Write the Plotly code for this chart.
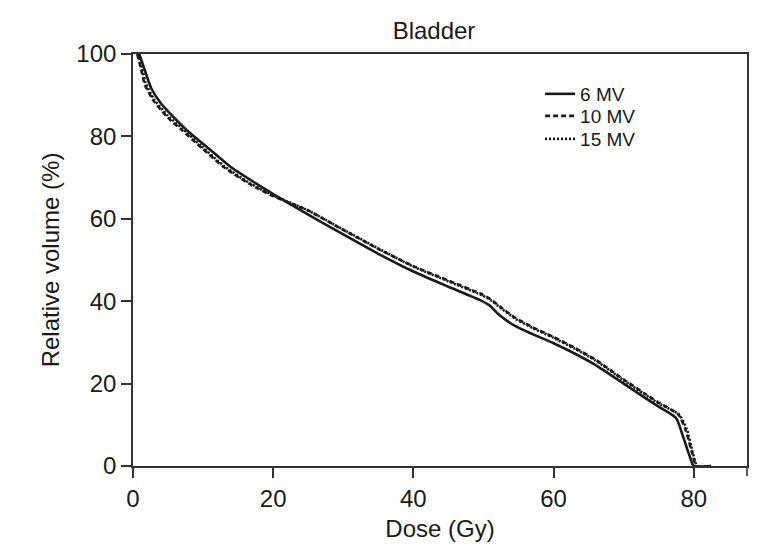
import plotly.graph_objects as go

# Dose-volume histogram data (Dose in Gy, relative volume in %)
dose_6mv = [0.9, 1.5, 2.6, 4.0, 5.9, 8.0, 10.7, 14.0, 17.8, 20.0, 25.0, 30.0, 35.0, 40.0, 45.0,
            49.6, 51.0, 52.1, 54.5, 57.0, 60.0, 63.0, 66.0, 70.0, 73.0, 75.0, 77.5, 78.5, 79.5, 80.0, 82.5]
vol_6mv = [100, 97, 91.7, 88, 84.5, 81, 77.2, 72.5, 68.3, 66, 61, 56.2, 51.5, 47.2, 43.5,
           40.2, 38.8, 36.9, 34, 32, 29.8, 27.3, 24.5, 20, 16.6, 14.4, 11.6, 7, 2, 0, 0]

dose_10mv = [0.6, 1.2, 1.7, 3.0, 5.0, 7.0, 9.8, 13.0, 16.8, 20.0, 25.0, 30.0, 35.0, 40.0, 45.0,
             49.6, 51.0, 52.5, 54.5, 57.0, 60.0, 63.0, 66.0, 70.0, 73.0, 75.0, 77.8, 78.8, 79.8, 80.4, 82.5]
vol_10mv = [100, 96, 92.5, 88.5, 84.5, 81.5, 77.2, 72.5, 68.3, 65.5, 62, 57.3, 52.7, 48.5, 45,
            41.8, 40.5, 38.5, 36, 33.7, 31.3, 28.7, 25.8, 21, 17.6, 15.4, 12.5, 9, 3, 0, 0]

dose_15mv = [0.7, 1.3, 1.8, 3.0, 5.0, 7.0, 9.8, 13.0, 16.8, 20.0, 25.0, 30.0, 35.0, 40.0, 45.0,
             49.6, 51.0, 52.5, 54.5, 57.0, 60.0, 63.0, 66.0, 70.0, 73.0, 75.0, 77.9, 79.0, 79.9, 80.5, 82.5]
vol_15mv = [100, 96.5, 93, 89, 85, 82, 77.6, 72.8, 68.5, 65.7, 62, 57.4, 52.8, 48.4, 44.8,
            41.6, 40.3, 38.3, 35.8, 33.5, 31.1, 28.5, 25.6, 20.8, 17.4, 15.2, 12.5, 9, 3, 0, 0]

series_names = ["6 MV", "10 MV", "15 MV"]
x_ticks = [0, 20, 40, 60, 80]
y_ticks = [0, 20, 40, 60, 80, 100]

FONT = "Liberation Sans, Arial, sans-serif"
INK = "#1a1a1a"
AXIS = "#333333"

fig = go.Figure()
fig.add_trace(go.Scatter(x=dose_6mv, y=vol_6mv, mode="lines", name=series_names[0], legend="legend",
                         line=dict(color=INK, width=2.6, dash="solid", shape="spline", smoothing=0.6)))
fig.add_trace(go.Scatter(x=dose_10mv, y=vol_10mv, mode="lines", name=series_names[1], legend="legend2",
                         line=dict(color=INK, width=2.6, dash="5px,3px", shape="spline", smoothing=0.6)))
fig.add_trace(go.Scatter(x=dose_15mv, y=vol_15mv, mode="lines", name=series_names[2], legend="legend3",
                         line=dict(color=INK, width=2.6, dash="2px,2px", shape="spline", smoothing=0.6)))

axis_common = dict(showgrid=False, zeroline=False, showline=True, linecolor=AXIS, linewidth=1.6,
                   mirror=True, ticks="outside", ticklen=10, tickwidth=1.6, tickcolor=AXIS,
                   tickfont=dict(family=FONT, size=24, color=INK))

fig.update_xaxes(range=[0, 87.6], tickvals=x_ticks, ticktext=[str(v) for v in x_ticks],
                 title=dict(text="Dose (Gy)", font=dict(family=FONT, size=24, color=INK), standoff=10),
                 **axis_common)
fig.update_yaxes(range=[0, 100], tickvals=y_ticks, ticktext=[str(v) for v in y_ticks],
                 title=dict(text="Relative volume (%)", font=dict(family=FONT, size=24, color=INK), standoff=10),
                 **axis_common)

# tick mark at the right end of the x axis
fig.add_shape(type="line", xref="paper", yref="paper", x0=1, x1=1, y0=0, y1=-10 / 412,
              line=dict(color=AXIS, width=1.6))

legend_style = dict(x=0.663, xanchor="left", yanchor="middle", bgcolor="rgba(0,0,0,0)",
                    font=dict(family=FONT, size=19, color=INK), itemwidth=30)

fig.update_layout(
    width=777, height=554,
    margin=dict(l=125, r=38, t=46, b=96),
    paper_bgcolor="white", plot_bgcolor="white",
    title=dict(text="Bladder", x=426 / 777, xanchor="center", xref="container",
               y=1 - 23 / 554, yanchor="middle", font=dict(family=FONT, size=24, color=INK)),
    legend=dict(y=(458 - 86) / 412, **legend_style),
    legend2=dict(y=(458 - 108) / 412, **legend_style),
    legend3=dict(y=(458 - 131) / 412, **legend_style),
    showlegend=True,
)

fig.write_html("out.html")
